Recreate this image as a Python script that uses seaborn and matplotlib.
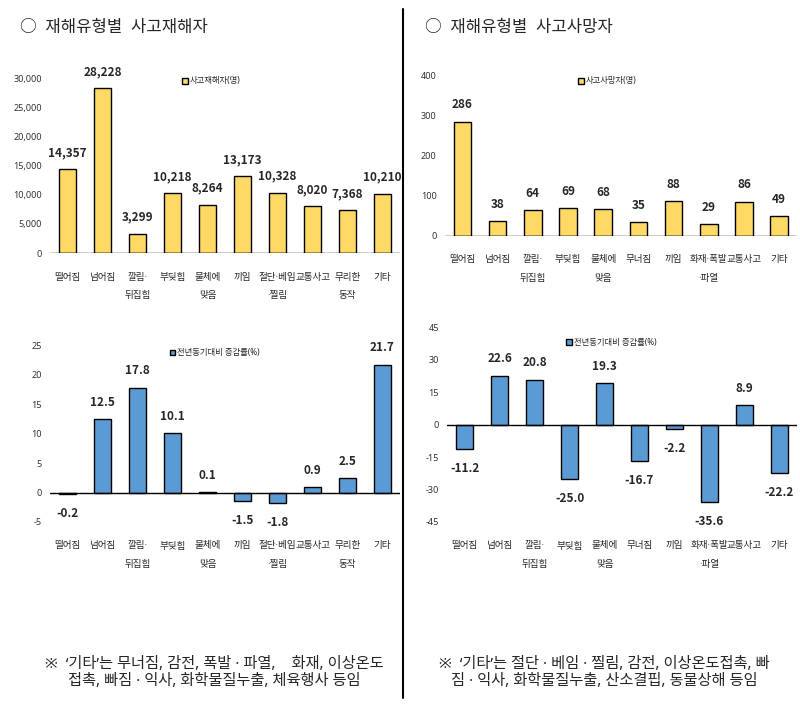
import numpy as np
import pandas as pd
import matplotlib.pyplot as plt
import seaborn as sns
from matplotlib.lines import Line2D

sns.set_style("white")
plt.rcParams['font.family'] = ['Noto Sans', 'Noto Sans CJK KR', 'DejaVu Sans']

# 왼쪽: 사고재해자
left_cats = ["떨어짐", "넘어짐", "깔림·\n뒤집힘", "부딪힘", "물체에\n맞음", "끼임",
             "절단·베임\n·찔림", "교통사고", "무리한\n동작", "기타"]
left_count = [14357, 28228, 3299, 10218, 8264, 13173, 10328, 8020, 7368, 10210]
left_rate = [-0.2, 12.5, 17.8, 10.1, 0.1, -1.5, -1.8, 0.9, 2.5, 21.7]

# 오른쪽: 사고사망자
right_cats = ["떨어짐", "넘어짐", "깔림·\n뒤집힘", "부딪힘", "물체에\n맞음", "무너짐",
              "끼임", "화재·폭발\n·파열", "교통사고", "기타"]
right_count = [286, 38, 64, 69, 68, 35, 88, 29, 86, 49]
right_rate = [-11.2, 22.6, 20.8, -25.0, 19.3, -16.7, -2.2, -35.6, 8.9, -22.2]

YELLOW = "#FFD966"
BLUE = "#5B9BD5"

fig = plt.figure(figsize=(8, 7.19), dpi=100)


def draw(rect, cats, vals, color, label, ylim, yticks, fmt, legend_xy):
    ax = fig.add_axes(rect)
    df = pd.DataFrame({"cat": cats, "val": vals})
    sns.barplot(data=df, x="cat", y="val", color=color, saturation=1, width=0.5,
                edgecolor="black", linewidth=1.0, label=label, ax=ax)
    ax.set_xlim(-0.5, len(cats) - 0.5)
    ax.set_ylim(*ylim)
    ax.set_yticks(yticks)
    ax.set_yticklabels([f"{t:,}" for t in yticks], fontsize=6.5, color="#333333")
    ax.set_xticks(range(len(cats)))
    ax.set_xticklabels(cats, fontsize=6.9, linespacing=2.4, va="top")
    ax.tick_params(axis="both", length=0)
    ax.tick_params(axis="x", pad=14)
    ax.tick_params(axis="y", pad=6)
    ax.set_xlabel("")
    ax.set_ylabel("")
    for s in ax.spines.values():
        s.set_visible(False)
    ax.axhline(0, color="black", lw=1.0)
    for i, v in enumerate(vals):
        off = 12 if v >= 0 else -14
        ax.annotate(fmt(v), (i, v), xytext=(0, off), textcoords="offset points",
                    ha="center", va="center", fontsize=8.5, fontweight="bold",
                    family=["Noto Sans CJK KR", "DejaVu Sans"])
    ax.legend(loc="center left", bbox_to_anchor=legend_xy,
              bbox_transform=fig.transFigure, frameon=False, fontsize=6,
              handlelength=0.7, handleheight=0.7, handletextpad=0.2,
              borderpad=0, borderaxespad=0)
    return ax


draw([0.0625, 0.648, 0.4375, 0.2434], left_cats, left_count, YELLOW, "사고재해자(명)",
     (0, 30000), [0, 5000, 10000, 15000, 20000, 25000, 30000],
     lambda v: f"{v:,}", (0.228, 1 - 81 / 719))
draw([0.0625, 0.274, 0.4375, 0.246], left_cats, left_rate, BLUE, "전년동기대비 증감률(%)",
     (-5, 25), [-5, 0, 5, 10, 15, 20, 25],
     lambda v: f"{v:.1f}", (0.212, 1 - 353 / 719))
draw([0.556, 0.6718, 0.44, 0.2225], right_cats, right_count, YELLOW, "사고사망자(명)",
     (0, 400), [0, 100, 200, 300, 400],
     lambda v: f"{v}", (0.723, 1 - 81 / 719))
draw([0.559, 0.274, 0.437, 0.271], right_cats, right_rate, BLUE, "전년동기대비 증감률(%)",
     (-45, 45), [-45, -30, -15, 0, 15, 30, 45],
     lambda v: f"{v:.1f}", (0.708, 1 - 342 / 719))

# 제목
fig.text(20 / 800, 1 - 28 / 719, "○  재해유형별  사고재해자", fontsize=12, va="center")
fig.text(425 / 800, 1 - 28 / 719, "○  재해유형별  사고사망자", fontsize=12, va="center")

# 가운데 구분선
fig.add_artist(Line2D([403 / 800, 403 / 800], [1 - 9 / 719, 1 - 698 / 719],
                      color="black", lw=1.5, transform=fig.transFigure))

# 각주
fig.text(214 / 800, 1 - 673 / 719,
         "※  ‘기타’는 무너짐, 감전, 폭발 · 파열,    화재, 이상온도\n접촉, 빠짐 · 익사, 화학물질누출, 체육행사 등임",
         fontsize=11, ha="center", va="center", linespacing=1.25)
fig.text(604 / 800, 1 - 673 / 719,
         "※  ‘기타’는 절단 · 베임 · 찔림, 감전, 이상온도접촉, 빠\n짐 · 익사, 화학물질누출, 산소결핍, 동물상해 등임",
         fontsize=11, ha="center", va="center", linespacing=1.25)

fig.savefig("out.png", dpi=100)
